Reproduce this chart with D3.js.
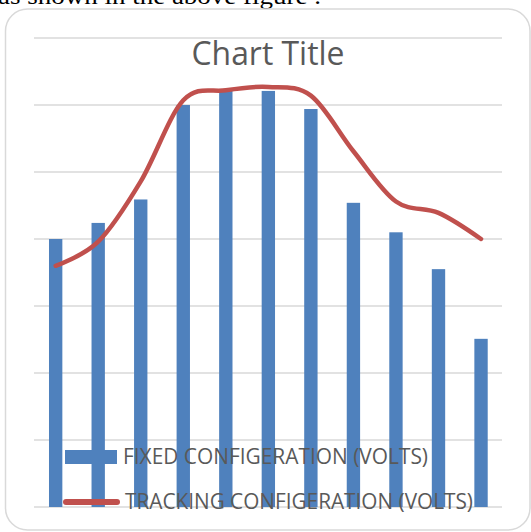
<!DOCTYPE html>
<html>
<head>
<meta charset="utf-8">
<script src="https://cdn.jsdelivr.net/npm/d3@7"></script>
<style>
  html, body { margin: 0; padding: 0; background: #fff; overflow: hidden; }
  svg { display: block; }
</style>
</head>
<body>
<svg id="chart" width="531" height="532"></svg>
<script>
// ---- data ----
const categories = ["1","2","3","4","5","6","7","8","9","10","11"];
const fixedValues = [4.00, 4.24, 4.59, 6.00, 6.21, 6.21, 5.94, 4.54, 4.10, 3.55, 2.51];
const trackingValues = [3.60, 3.96, 4.86, 6.07, 6.22, 6.27, 6.14, 5.31, 4.56, 4.39, 4.00];
const yTicks = [0, 1, 2, 3, 4, 5, 6, 7];
const seriesNames = ["FIXED CONFIGERATION (VOLTS)", "TRACKING CONFIGERATION (VOLTS)"];
const chartTitle = "Chart Title";
const captionText = "as shown in the above figure .";

// ---- drawing ----
const svg = d3.select("#chart");
const barColor = "#4f81bd", lineColor = "#c0504d", gridColor = "#d9d9d9", textColor = "#595959";
const sans = "'Open Sans', 'Noto Sans', sans-serif";

svg.append("rect").attr("width", 531).attr("height", 532).attr("fill", "#fff");

// caption text cut at top (from surrounding document)
svg.append("text")
  .attr("x", -2).attr("y", 4)
  .attr("font-family", "'Liberation Serif', 'Times New Roman', serif")
  .attr("font-size", 24)
  .attr("fill", "#000")
  .attr("textLength", 323).attr("lengthAdjust", "spacingAndGlyphs")
  .text(captionText);

// chart border
svg.append("rect")
  .attr("x", 5.5).attr("y", 9).attr("width", 524.5).attr("height", 521)
  .attr("rx", 22).attr("ry", 22)
  .attr("fill", "#fff").attr("stroke", gridColor).attr("stroke-width", 1.5);

const x = d3.scaleBand().domain(categories).range([34.4, 502.3])
  .paddingInner(0.686).paddingOuter(0.343);
const y = d3.scaleLinear().domain([0, 7]).range([507, 38]);

// gridlines
svg.append("g").selectAll("line").data(yTicks).join("line")
  .attr("x1", 34).attr("x2", 502)
  .attr("y1", d => y(d)).attr("y2", d => y(d))
  .attr("stroke", gridColor).attr("stroke-width", 1.5);

// title
svg.append("text")
  .attr("x", 268).attr("y", 65)
  .attr("text-anchor", "middle")
  .attr("font-family", sans).attr("font-size", 32)
  .attr("fill", textColor)
  .attr("textLength", 153).attr("lengthAdjust", "spacingAndGlyphs")
  .text(chartTitle);

// bars
svg.append("g").selectAll("rect").data(fixedValues).join("rect")
  .attr("x", (d, i) => x(categories[i]))
  .attr("width", x.bandwidth())
  .attr("y", d => y(d))
  .attr("height", d => y(0) - y(d))
  .attr("fill", barColor);

// smoothed line
const line = d3.line()
  .x((d, i) => x(categories[i]) + x.bandwidth() / 2)
  .y(d => y(d))
  .curve(d3.curveCatmullRom.alpha(0));
svg.append("path")
  .datum(trackingValues)
  .attr("d", line)
  .attr("fill", "none")
  .attr("stroke", lineColor)
  .attr("stroke-width", 4.5)
  .attr("stroke-linecap", "round")
  .attr("stroke-linejoin", "round");

// legend
const lg = svg.append("g");
lg.append("rect").attr("x", 65).attr("y", 450).attr("width", 52).attr("height", 14).attr("fill", barColor);
lg.append("text")
  .attr("x", 123).attr("y", 464)
  .attr("font-family", sans).attr("font-size", 22).attr("fill", textColor)
  .attr("textLength", 305).attr("lengthAdjust", "spacingAndGlyphs")
  .text(seriesNames[0]);
lg.append("line").attr("x1", 66).attr("x2", 117).attr("y1", 502).attr("y2", 502)
  .attr("stroke", lineColor).attr("stroke-width", 6).attr("stroke-linecap", "round");
lg.append("text")
  .attr("x", 125).attr("y", 509)
  .attr("font-family", sans).attr("font-size", 22).attr("fill", textColor)
  .attr("textLength", 348).attr("lengthAdjust", "spacingAndGlyphs")
  .text(seriesNames[1]);
</script>
</body>
</html>
